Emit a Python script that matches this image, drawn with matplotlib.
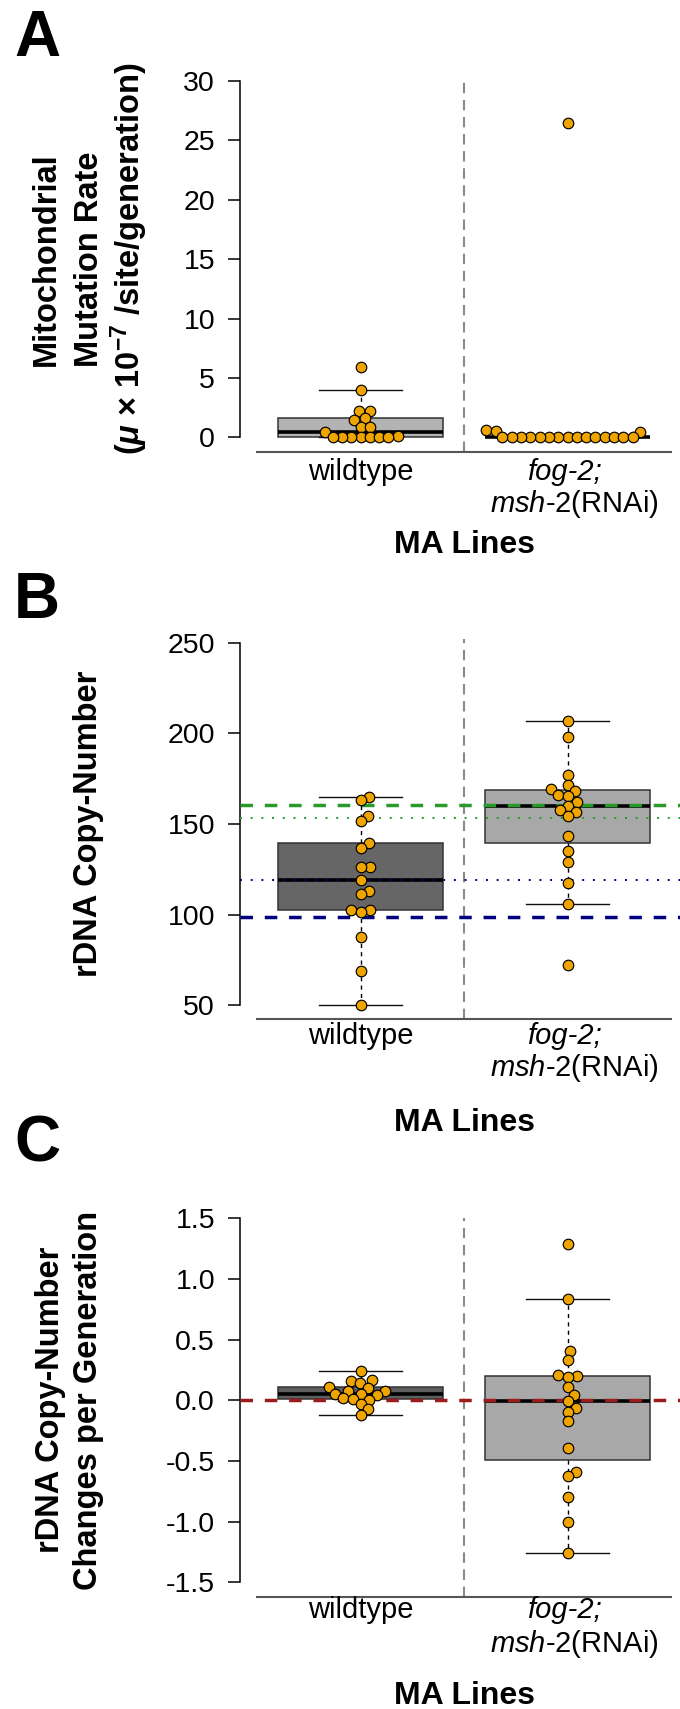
import numpy as np
import matplotlib
matplotlib.use('Agg')
import matplotlib.pyplot as plt
from matplotlib.transforms import blended_transform_factory

plt.rcParams['font.family'] = ['Liberation Sans', 'DejaVu Sans']
plt.rcParams['mathtext.fontset'] = 'custom'
plt.rcParams['mathtext.rm'] = 'Liberation Sans'
plt.rcParams['mathtext.it'] = 'Liberation Sans:italic'
plt.rcParams['mathtext.bf'] = 'Liberation Sans:bold'
plt.rcParams['mathtext.bfit'] = 'Liberation Sans:bold:italic'

# ---------------- data ----------------
positions = [1, 2]
xlab_wt = 'wildtype'
xlab_msh_1 = 'fog-2;'
xlab_msh_2 = r'$\mathit{msh}$-2(RNAi)'

# A: mitochondrial mutation rate (x 10^-7 /site/generation)
mito_wt = [5.93, 3.99, 2.22, 2.22, 1.6, 1.46, 0.9, 0.9, 0.42, 0.12,
           0, 0, 0, 0, 0, 0, 0]
mito_msh = [26.5, 0.59, 0.53, 0.45,
            0, 0, 0, 0, 0, 0, 0, 0, 0, 0, 0, 0, 0, 0, 0]

# B: rDNA copy-number
rdna_wt = [165.0, 163.1, 154.5, 151.7, 139.6, 137.0, 126.5, 126.3, 119.0,
           113.1, 111.3, 102.8, 102.5, 101.6, 87.8, 69.0, 49.9]
rdna_msh = [206.8, 197.9, 176.9, 171.4, 169.2, 168.4, 165.9, 165.5, 162.4,
            160.2, 157.8, 156.7, 154.6, 143.6, 135.0, 129.1, 117.4, 106.1, 72.2]
anc_wt = 98.7
anc_msh = 160.3

# C: rDNA copy-number changes per generation
chg_wt = [0.239, 0.167, 0.155, 0.146, 0.11, 0.10, 0.08, 0.075, 0.054,
          0.05, 0.042, 0.015, 0.012, 0.003, -0.03, -0.075, -0.12]
chg_msh = [1.285, 0.837, 0.403, 0.329, 0.209, 0.197, 0.194, 0.11, 0.045,
           -0.009, -0.06, -0.093, -0.173, -0.397, -0.59, -0.62, -0.80,
           -1.0, -1.26]

# ---------------- layout helpers ----------------
W, H = 680, 1709
fig = plt.figure(figsize=(W / 100, H / 100), dpi=100)

X_LEFT, X_RIGHT = 239.5, 680
PX1, PX2 = 360.5, 567.5          # pixel x of group 1 and 2
DOT = '#EFA500'


def lin(v1, p1, v2, p2, p):
    return v1 + (p - p1) * (v2 - v1) / (p2 - p1)


def make_axes(top, bottom, v1, p1, v2, p2):
    ax = fig.add_axes([X_LEFT / W, 1 - bottom / H,
                       (X_RIGHT - X_LEFT) / W, (bottom - top) / H])
    ax.set_xlim(lin(1, PX1, 2, PX2, X_LEFT), lin(1, PX1, 2, PX2, X_RIGHT))
    ax.set_ylim(lin(v1, p1, v2, p2, bottom), lin(v1, p1, v2, p2, top))
    return ax


def fivenum_stats(vals):
    x = np.sort(np.asarray(vals, float))
    n = len(x)
    n4 = np.floor((n + 3) / 2) / 2
    idx = np.array([1, n4, (n + 1) / 2, n + 1 - n4, n]) - 1
    f = 0.5 * (x[np.floor(idx).astype(int)] + x[np.ceil(idx).astype(int)])
    iqr = f[3] - f[1]
    lo = x[x >= f[1] - 1.5 * iqr].min()
    hi = x[x <= f[3] + 1.5 * iqr].max()
    return dict(med=f[2], q1=f[1], q3=f[3], whislo=lo, whishi=hi, fliers=[])


def swarm_x(ax, xc, vals, d=9.3):
    vals = np.asarray(vals, float)
    pts = ax.transData.transform(np.column_stack([np.full(len(vals), xc), vals]))
    x0, ys = pts[0, 0], pts[:, 1]
    order = np.argsort(ys, kind='stable')
    placed = []
    off = np.zeros(len(vals))
    for i in order:
        y = ys[i]
        cands = [0.0]
        for px, py in placed:
            dy = abs(y - py)
            if dy < d:
                dx = np.sqrt(d * d - dy * dy)
                cands += [px + dx, px - dx]
        cands.sort(key=lambda c: (round(abs(c), 6), -c))
        for c in cands:
            if all((c - px) ** 2 + (y - py) ** 2 >= d * d - 1e-6 for px, py in placed):
                break
        off[i] = c
        placed.append((c, y))
    back = ax.transData.inverted().transform(np.column_stack([x0 + off, ys]))
    return back[:, 0]


def draw_panel(ax, groups, colors, yticks, ylabels, tick_lo, tick_hi):
    for sp in ['top', 'right']:
        ax.spines[sp].set_visible(False)
    ax.spines['left'].set_bounds(tick_lo, tick_hi)
    ax.spines['left'].set_linewidth(1.1)
    ax.spines['bottom'].set_bounds(0.5, 2.5)
    ax.spines['bottom'].set_color('#555555')
    ax.spines['bottom'].set_linewidth(1.5)
    ax.axvline(1.5, color='#8a8a8a', lw=1.5, ls=(0, (5, 3.2)), zorder=1)
    for pos, vals, col in zip(positions, groups, colors):
        ax.bxp([fivenum_stats(vals)], positions=[pos], widths=0.8,
               capwidths=0.4, patch_artist=True, showfliers=False,
               manage_ticks=False,
               boxprops=dict(facecolor=col, edgecolor='#333333', lw=1.1),
               medianprops=dict(color='black', lw=2.6, solid_capstyle='butt'),
               whiskerprops=dict(color='black', lw=1.0, ls=(0, (3, 3))),
               capprops=dict(color='#111111', lw=1.0), zorder=2)
    ax.set_xticks([])
    ax.set_yticks(yticks)
    ax.set_yticklabels(ylabels)
    ax.tick_params(axis='y', length=8.6, width=1.1, pad=9, labelsize=20.5)
    ax.set_xlim(lin(1, PX1, 2, PX2, X_LEFT), lin(1, PX1, 2, PX2, X_RIGHT))


def draw_dots(ax, groups):
    for pos, vals in zip(positions, groups):
        xs = swarm_x(ax, pos, vals)
        ax.plot(xs, vals, 'o', ms=7.6, mfc=DOT, mec='black', mew=0.85,
                zorder=5, clip_on=False)


def xlabels(ax, y1, y2, y3):
    tr = blended_transform_factory(ax.transData, fig.transFigure)
    ax.text(1, 1 - y1 / H, xlab_wt, transform=tr, ha='center', va='baseline',
            fontsize=21)
    ax.text(1.985, 1 - y1 / H, xlab_msh_1, transform=tr, ha='center',
            va='baseline', fontsize=21, style='italic')
    ax.text(2.034, 1 - y2 / H, xlab_msh_2, transform=tr, ha='center',
            va='baseline', fontsize=21)
    ax.text(1.5, 1 - y3 / H, 'MA Lines', transform=tr, ha='center',
            va='baseline', fontsize=23, fontweight='bold')


def letter(s, y):
    fig.text(14 / W, 1 - y / H, s, fontsize=46, fontweight='bold',
             ha='left', va='baseline')


def ylab(s, xc, yc):
    fig.text(xc / W, 1 - yc / H, s, rotation=90, ha='center', va='center',
             fontsize=23.5, fontweight='bold')


REF_DASH = (0, (3.6, 3.4))
REF_DOT = (0, (1, 4.5))

# ---------------- panel A ----------------
axA = make_axes(79, 451.5, 0, 437.3, 30, 81)
draw_panel(axA, [mito_wt, mito_msh], ['#B3B3B3', '#B3B3B3'],
           [0, 5, 10, 15, 20, 25, 30], ['0', '5', '10', '15', '20', '25', '30'],
           0, 30)
draw_dots(axA, [mito_wt, mito_msh])
xlabels(axA, 480, 512, 553)
letter('A', 56)
ylab('Mitochondrial', 46, 259)
ylab('Mutation Rate', 89, 259)
ylab(r'($\mathbfit{\mu}$ × $\mathbf{10^{-7}}$ /site/generation)', 129, 259)

# ---------------- panel B ----------------
axB = make_axes(639, 1019, 50, 1005.3, 250, 642.7)
draw_panel(axB, [rdna_wt, rdna_msh], ['#666666', '#A8A8A8'],
           [50, 100, 150, 200, 250], ['50', '100', '150', '200', '250'],
           50, 250)
axB.axhline(anc_msh, color='#2A9A2A', lw=2.5, ls=REF_DASH, zorder=3)
axB.axhline(np.mean(rdna_msh), color='#2A9A2A', lw=1.4, ls=REF_DOT, zorder=3)
axB.axhline(np.mean(rdna_wt), color='#000080', lw=1.4, ls=REF_DOT, zorder=3)
axB.axhline(anc_wt, color='#000080', lw=2.5, ls=REF_DASH, zorder=3)
draw_dots(axB, [rdna_wt, rdna_msh])
xlabels(axB, 1044, 1076, 1131)
letter('B', 618)
ylab('rDNA Copy-Number', 89, 824)

# ---------------- panel C ----------------
axC = make_axes(1218, 1597, -1.5, 1582.3, 1.5, 1218.3)
draw_panel(axC, [chg_wt, chg_msh], ['#5E5E5E', '#A8A8A8'],
           [-1.5, -1.0, -0.5, 0.0, 0.5, 1.0, 1.5],
           ['-1.5', '-1.0', '-0.5', '0.0', '0.5', '1.0', '1.5'],
           -1.5, 1.5)
axC.axhline(0, color='#9B1C1C', lw=2.5, ls=REF_DASH, zorder=3)
draw_dots(axC, [chg_wt, chg_msh])
xlabels(axC, 1618, 1652, 1704)
letter('C', 1161)
ylab('rDNA Copy-Number', 50, 1400)
ylab('Changes per Generation', 89, 1400)

fig.savefig('out.png', dpi=100)
